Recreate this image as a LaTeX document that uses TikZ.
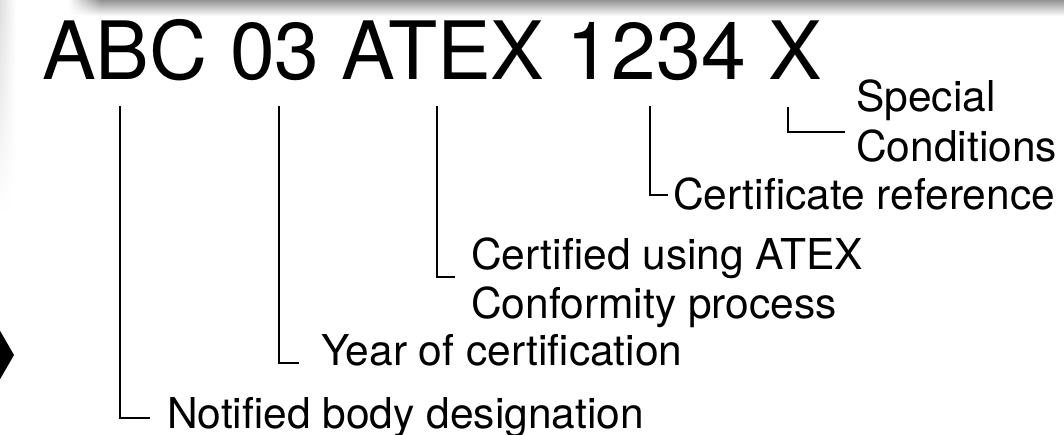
\documentclass[tikz,border=0pt]{standalone}
\usepackage{fontspec}
\setmainfont{TeX Gyre Heros}
\usetikzlibrary{fadings}
\begin{document}
\begin{tikzpicture}[x=1pt,y=-1pt,
  lead/.style={line width=2pt, line cap=butt},
  lbl/.style={anchor=base west, inner sep=0pt, font=\fontsize{42.5}{50}\selectfont},
  ttl/.style={anchor=base west, inner sep=0pt, font=\fontsize{80.5}{95}\selectfont},
  topbar/.style={top color=black!42, bottom color=white}]
\useasboundingbox (0,0) rectangle (1064,435);
% background decorations
\shade[topbar] (100,0) rectangle (1064,16);
\shade[topbar, path fading=west] (68,0) rectangle (100.5,16);
\shade[left color=black!14, right color=white, path fading=south] (0,-20) rectangle (16,215);
\fill[black] (-1,329) -- (14,355) -- (-1,381) -- cycle;
% title
\node[ttl] (title) at (42,80) {ABC 03 ATEX 1234 X};
% start points under the title
\coordinate (s1) at (120,106);
\coordinate (s2) at (279,106);
\coordinate (s3) at (437,106);
\coordinate (s4) at (650,106);
\coordinate (s5) at (788,107);
% end points of the leaders
\coordinate (e1) at (150,418);
\coordinate (e2) at (299,363);
\coordinate (e3) at (455,277);
\coordinate (e4) at (668,195);
\coordinate (e5) at (845,132);
% labels
\node[lbl] (nb) at (167,428) {Notified body designation};
\node[lbl] (yr) at (321,365) {Year of certification};
\node[lbl] (cu1) at (471,270) {Certified using ATEX};
\node[lbl] (cu2) at (471,318) {Conformity process};
\node[lbl] (cr) at (673,210) {Certificate reference};
\node[lbl] (sc1) at (856,112) {Special};
\node[lbl] (sc2) at (856,162) {Conditions};
% leaders
\draw[lead] (s1) |- (e1);
\draw[lead] (s2) |- (e2);
\draw[lead] (s3) |- (e3);
\draw[lead] (s4) |- (e4);
\draw[lead] (s5) |- (e5);
\end{tikzpicture}
\end{document}
